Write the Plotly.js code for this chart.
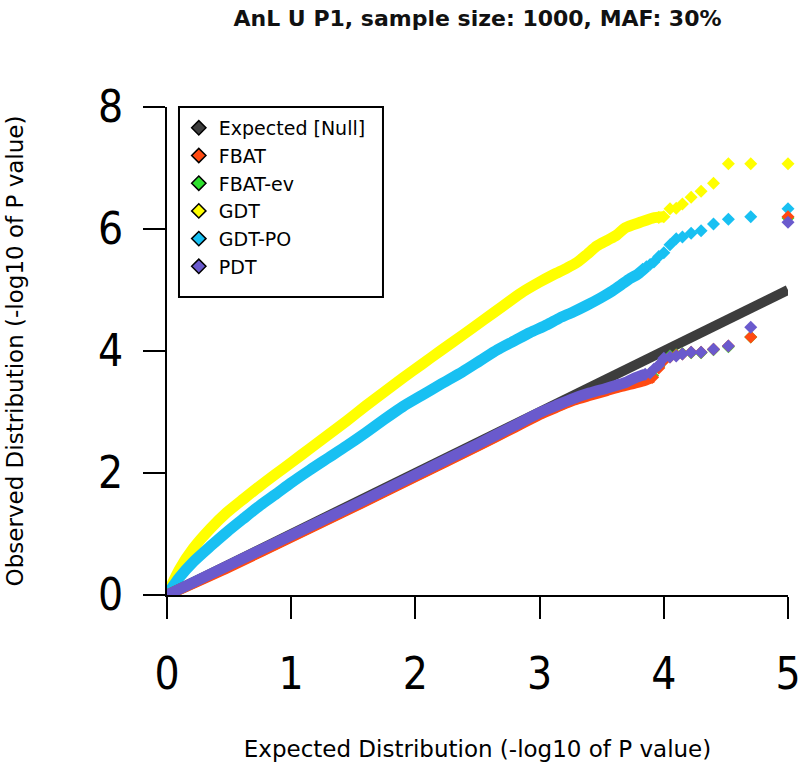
<!DOCTYPE html>
<html>
<head>
<meta charset="utf-8">
<script src="https://cdn.plot.ly/plotly-3.0.1.min.js"></script>
<style>html,body{margin:0;padding:0;background:#fff;}#chart{width:800px;height:776px;}</style>
</head>
<body>
<div id="chart"></div>
<script>
// ---- Data ----
const seriesNames = ["Expected [Null]", "FBAT", "FBAT-ev", "GDT", "GDT-PO", "PDT"];
const xTicks = [0, 1, 2, 3, 4, 5];
const yTicks = [0, 2, 4, 6, 8];

const nullX = [0, 5];
const nullY = [0, 5];

// GDT (yellow): dense part, then individual tail points
const gdtX = [0, 0.1, 0.21, 0.35, 0.48, 0.62, 0.75, 0.88, 1.0, 1.15, 1.3, 1.45, 1.6, 1.75, 1.9, 2.05, 2.2, 2.38, 2.55, 2.7, 2.85, 3.0, 3.11, 3.22, 3.3, 3.38, 3.46, 3.55, 3.62, 3.69, 3.81, 3.91, 4.0];
const gdtY = [0, 0.42, 0.76, 1.09, 1.35, 1.58, 1.79, 1.99, 2.17, 2.4, 2.63, 2.86, 3.1, 3.33, 3.56, 3.78, 4.0, 4.26, 4.51, 4.73, 4.95, 5.13, 5.25, 5.36, 5.45, 5.58, 5.72, 5.82, 5.9, 6.02, 6.11, 6.18, 6.2];
const gdtTailX = [3.96, 4.0, 4.05, 4.10, 4.15, 4.22, 4.30, 4.40, 4.52, 4.70, 5.0];
const gdtTailY = [6.19, 6.2, 6.33, 6.34, 6.41, 6.52, 6.62, 6.75, 7.07, 7.07, 7.07];

// GDT-PO (sky blue)
const gdtpoX = [0, 0.1, 0.21, 0.35, 0.48, 0.62, 0.75, 0.88, 1.0, 1.15, 1.3, 1.45, 1.6, 1.75, 1.9, 2.05, 2.2, 2.38, 2.52, 2.66, 2.8, 2.92, 3.06, 3.16, 3.27, 3.38, 3.49, 3.59, 3.66, 3.73, 3.79, 3.86];
const gdtpoY = [0, 0.29, 0.54, 0.8, 1.03, 1.26, 1.47, 1.66, 1.84, 2.05, 2.25, 2.45, 2.66, 2.88, 3.09, 3.27, 3.45, 3.66, 3.84, 4.02, 4.17, 4.3, 4.43, 4.54, 4.64, 4.75, 4.87, 4.99, 5.09, 5.19, 5.26, 5.38];
const gdtpoTailX = [3.86, 3.89, 3.92, 3.96, 4.0, 4.05, 4.10, 4.15, 4.22, 4.30, 4.40, 4.52, 4.70, 5.0];
const gdtpoTailY = [5.38, 5.42, 5.46, 5.55, 5.61, 5.74, 5.84, 5.87, 5.93, 5.97, 6.08, 6.16, 6.20, 6.33];

// FBAT-ev (green)
const fbatevX = [0, 0.5, 1, 1.5, 2, 2.5, 2.8, 3.0, 3.15, 3.27, 3.4, 3.54, 3.62, 3.70, 3.78, 3.85, 3.91];
const fbatevY = [0, 0.47, 0.96, 1.45, 1.95, 2.45, 2.76, 2.97, 3.10, 3.20, 3.29, 3.37, 3.42, 3.46, 3.50, 3.55, 3.60];
const fbatevTailX = [3.91, 3.96, 4.0, 4.05, 4.10, 4.15, 4.22, 4.30, 4.40, 4.52, 4.70, 5.0];
const fbatevTailY = [3.60, 3.74, 3.85, 3.92, 3.94, 3.96, 3.97, 3.97, 4.02, 4.07, 4.23, 6.18];

// FBAT (orange-red)
const fbatX = [0, 0.5, 1, 1.5, 2, 2.5, 2.8, 3.0, 3.15, 3.27, 3.4, 3.54, 3.62, 3.70, 3.78, 3.85, 3.91];
const fbatY = [0, 0.46, 0.95, 1.44, 1.94, 2.44, 2.75, 2.96, 3.09, 3.19, 3.27, 3.35, 3.40, 3.44, 3.48, 3.52, 3.57];
const fbatTailX = [3.91, 3.96, 4.0, 4.05, 4.10, 4.15, 4.22, 4.30, 4.40, 4.52, 4.70, 5.0];
const fbatTailY = [3.57, 3.72, 3.84, 3.90, 3.93, 3.95, 3.98, 3.98, 4.03, 4.08, 4.23, 6.20];

// PDT (slate blue)
const pdtX = [0, 0.5, 1, 1.5, 2, 2.5, 2.8, 3.0, 3.15, 3.27, 3.4, 3.54, 3.62, 3.70, 3.78, 3.85];
const pdtY = [0, 0.49, 0.98, 1.47, 1.97, 2.47, 2.78, 2.99, 3.12, 3.22, 3.31, 3.39, 3.44, 3.49, 3.57, 3.62];
const pdtTailX = [3.85, 3.89, 3.92, 3.96, 4.0, 4.05, 4.10, 4.15, 4.22, 4.30, 4.40, 4.52, 4.70, 5.0];
const pdtTailY = [3.62, 3.64, 3.70, 3.77, 3.88, 3.90, 3.92, 3.95, 3.98, 3.98, 4.03, 4.08, 4.39, 6.11];

// ---- Styles ----
const colors = {
  "Expected [Null]": "#3d3d3d",
  "FBAT": "#ff4a12",
  "FBAT-ev": "#2ee02e",
  "GDT": "#ffff00",
  "GDT-PO": "#18c0f2",
  "PDT": "#6a5acd"
};
const FONT = "DejaVu Sans, Verdana, sans-serif";
const TICKFONT = "DejaVu Sans Condensed, Liberation Sans Narrow, DejaVu Sans, sans-serif";
const BAND = 11;
const MSIZE = 10;

function band(x, y, name) {
  return { x: x, y: y, type: "scatter", mode: "lines", showlegend: false, hoverinfo: "skip",
    cliponaxis: false, line: { color: colors[name], width: BAND, shape: "spline", smoothing: 0.7 }, legendgroup: name };
}
function tail(x, y, name) {
  return { x: x, y: y, type: "scatter", mode: "markers", showlegend: false, cliponaxis: false,
    marker: { symbol: "diamond", size: MSIZE, color: colors[name], line: { width: 0 } }, legendgroup: name };
}
function legendItem(name) {
  return { x: [null], y: [null], type: "scatter", mode: "markers", name: name, showlegend: true,
    marker: { symbol: "diamond", size: 11, color: colors[name], line: { color: "#000", width: 1.5 } } };
}

const traces = [
  band(gdtX, gdtY, "GDT"), tail(gdtTailX, gdtTailY, "GDT"),
  band(gdtpoX, gdtpoY, "GDT-PO"), tail(gdtpoTailX, gdtpoTailY, "GDT-PO"),
  { x: nullX, y: nullY, type: "scatter", mode: "lines", showlegend: false, cliponaxis: false,
    line: { color: colors["Expected [Null]"], width: 10 } },
  band(fbatevX, fbatevY, "FBAT-ev"), tail(fbatevTailX, fbatevTailY, "FBAT-ev"),
  band(fbatX, fbatY, "FBAT"), tail(fbatTailX, fbatTailY, "FBAT"),
  band(pdtX, pdtY, "PDT"), tail(pdtTailX, pdtTailY, "PDT")
];
seriesNames.forEach(n => traces.push(legendItem(n)));

const layout = {
  width: 800, height: 776,
  margin: { l: 167, r: 12, t: 107, b: 181 },
  paper_bgcolor: "#fff", plot_bgcolor: "#fff",
  font: { family: FONT, color: "#000" },
  title: { text: "<b>AnL U P1, sample size: 1000, MAF: 30%</b>", font: { family: FONT, size: 22, color: "#111" },
    x: 0.5, xanchor: "center", y: 0.977, yanchor: "middle", xref: "paper", yref: "container" },
  xaxis: {
    range: [0, 5], tickvals: xTicks, ticktext: xTicks.map(String),
    showline: true, linecolor: "#000", linewidth: 2, mirror: false,
    ticks: "outside", ticklen: 22, tickwidth: 2, tickcolor: "#000",
    tickfont: { family: TICKFONT, size: 44, color: "#000" },
    ticklabelstandoff: 17, ticklabeloverflow: "allow",
    showgrid: false, zeroline: false,
    title: { text: "Expected Distribution (-log10 of P value)", font: { family: FONT, size: 23, color: "#000" }, standoff: 43 }
  },
  yaxis: {
    range: [0, 8], tickvals: yTicks, ticktext: yTicks.map(String),
    showline: true, linecolor: "#000", linewidth: 2, mirror: false,
    ticks: "outside", ticklen: 22, tickwidth: 2, tickcolor: "#000",
    tickfont: { family: TICKFONT, size: 44, color: "#000" },
    ticklabelstandoff: 11, ticklabeloverflow: "allow",
    showgrid: false, zeroline: false,
    title: { text: "Observed Distribution (-log10 of P value)", font: { family: FONT, size: 23, color: "#000" }, standoff: 68 }
  },
  legend: {
    x: 0.019, y: 0.996, xanchor: "left", yanchor: "top",
    bgcolor: "rgba(0,0,0,0)", borderwidth: 0,
    font: { family: FONT, size: 19, color: "#000" },
    traceorder: "normal"
  },
  shapes: [{
    type: "rect", xref: "paper", yref: "paper",
    x0: 0.0193, x1: 0.3478, y0: 0.6107, y1: 1.0,
    line: { color: "#000", width: 2 }, fillcolor: "#fff", layer: "above"
  }],
  showlegend: true
};

Plotly.newPlot("chart", traces, layout, { displayModeBar: false, staticPlot: true });
</script>
</body>
</html>
